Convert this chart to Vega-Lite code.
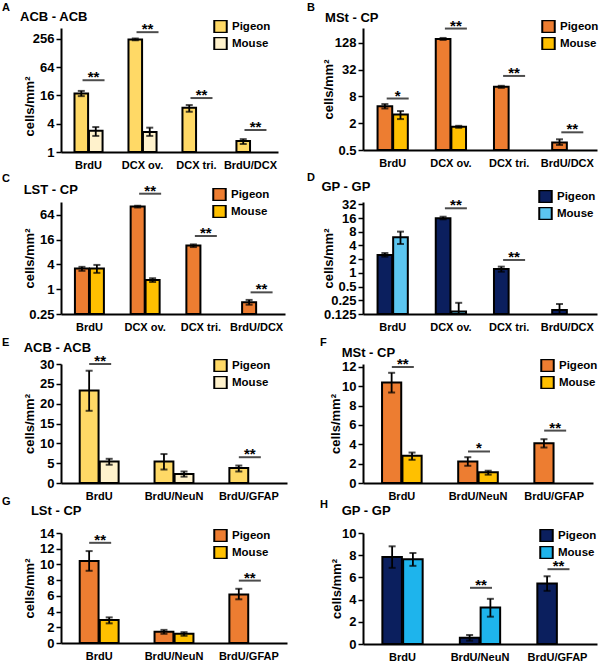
{
  "$schema": "https://vega.github.io/schema/vega-lite/v6.json",
  "autosize": {"type": "none"},
  "padding": {"left": 61, "top": 28, "right": 539, "bottom": 635},
  "background": "white",
  "columns": 2,
  "align": "each",
  "bounds": "flush",
  "spacing": {"row": 50, "column": 76},
  "resolve": {"scale": {"color": "independent", "xOffset": "independent"}},
  "config": {
    "font": "Liberation Sans",
    "view": {"stroke": null},
    "axis": {"domainColor": "black", "domainWidth": 2, "tickColor": "black", "tickWidth": 1.5, "labelColor": "black", "labelFontWeight": "bold", "titleColor": "black", "titleFontWeight": "bold", "grid": false},
    "axisX": {"ticks": false, "labelFontSize": 11, "labelPadding": 7, "labelAngle": 0},
    "axisY": {"labelFontSize": 13, "tickSize": 5, "labelPadding": 2, "titleFontSize": 13, "titleBaseline": "alphabetic", "titleAngle": -90, "labelOverlap": false, "tickCount": 50},
    "legend": {"orient": "none", "direction": "vertical", "title": null, "symbolType": "square", "symbolSize": 156, "symbolStrokeColor": "black", "symbolStrokeWidth": 2, "labelFontSize": 11.5, "labelFontWeight": "bold", "labelColor": "black", "clipHeight": 13, "rowPadding": 4, "labelOffset": 4},
    "title": {"anchor": "start", "frame": "group", "fontSize": 11, "fontWeight": "bold", "color": "black", "subtitleFontSize": 13, "subtitleFontWeight": "bold", "subtitleColor": "black"}
  },
  "datasets": {
    "bars": [
      {"p": "A", "c": "BrdU", "s": "Pigeon", "v": 17.6, "lo": 15.5, "hi": 20},
      {"p": "A", "c": "BrdU", "s": "Mouse", "v": 2.83, "lo": 2.2, "hi": 3.4},
      {"p": "A", "c": "DCX ov.", "s": "Pigeon", "v": 250, "lo": 240, "hi": 262},
      {"p": "A", "c": "DCX ov.", "s": "Mouse", "v": 2.67, "lo": 2.2, "hi": 3.3},
      {"p": "A", "c": "DCX tri.", "s": "Pigeon", "v": 8.8, "lo": 7.2, "hi": 10},
      {"p": "A", "c": "BrdU/DCX", "s": "Pigeon", "v": 1.71, "lo": 1.48, "hi": 1.88},
      {"p": "B", "c": "BrdU", "s": "Pigeon", "v": 4.85, "lo": 4.3, "hi": 5.4},
      {"p": "B", "c": "BrdU", "s": "Mouse", "v": 3.15, "lo": 2.48, "hi": 3.76},
      {"p": "B", "c": "DCX ov.", "s": "Pigeon", "v": 158, "lo": 150, "hi": 166},
      {"p": "B", "c": "DCX ov.", "s": "Mouse", "v": 1.67, "lo": 1.58, "hi": 1.75},
      {"p": "B", "c": "DCX tri.", "s": "Pigeon", "v": 13.2, "lo": 12.5, "hi": 13.9},
      {"p": "B", "c": "BrdU/DCX", "s": "Pigeon", "v": 0.74, "lo": 0.65, "hi": 0.87},
      {"p": "C", "c": "BrdU", "s": "Pigeon", "v": 3.2, "lo": 2.8, "hi": 3.5},
      {"p": "C", "c": "BrdU", "s": "Mouse", "v": 3.2, "lo": 2.5, "hi": 3.9},
      {"p": "C", "c": "DCX ov.", "s": "Pigeon", "v": 102, "lo": 97, "hi": 107},
      {"p": "C", "c": "DCX ov.", "s": "Mouse", "v": 1.67, "lo": 1.5, "hi": 1.85},
      {"p": "C", "c": "DCX tri.", "s": "Pigeon", "v": 11.5, "lo": 10.6, "hi": 12.3},
      {"p": "C", "c": "BrdU/DCX", "s": "Pigeon", "v": 0.48, "lo": 0.42, "hi": 0.55},
      {"p": "D", "c": "BrdU", "s": "Pigeon", "v": 2.48, "lo": 2.27, "hi": 2.73},
      {"p": "D", "c": "BrdU", "s": "Mouse", "v": 6.05, "lo": 4.3, "hi": 8.05},
      {"p": "D", "c": "DCX ov.", "s": "Pigeon", "v": 15.8, "lo": 15, "hi": 17.1},
      {"p": "D", "c": "DCX ov.", "s": "Mouse", "v": 0.141, "lo": 0.125, "hi": 0.22},
      {"p": "D", "c": "DCX tri.", "s": "Pigeon", "v": 1.22, "lo": 1.06, "hi": 1.37},
      {"p": "D", "c": "BrdU/DCX", "s": "Pigeon", "v": 0.153, "lo": 0.125, "hi": 0.207},
      {"p": "E", "c": "BrdU", "s": "Pigeon", "v": 23.3, "lo": 18.2, "hi": 28.3},
      {"p": "E", "c": "BrdU", "s": "Mouse", "v": 5.4, "lo": 4.6, "hi": 6.1},
      {"p": "E", "c": "BrdU/NeuN", "s": "Pigeon", "v": 5.4, "lo": 3.4, "hi": 7.3},
      {"p": "E", "c": "BrdU/NeuN", "s": "Mouse", "v": 2.27, "lo": 1.6, "hi": 2.9},
      {"p": "E", "c": "BrdU/GFAP", "s": "Pigeon", "v": 3.8, "lo": 2.9, "hi": 4.4},
      {"p": "F", "c": "BrdU", "s": "Pigeon", "v": 10.4, "lo": 9.36, "hi": 11.4},
      {"p": "F", "c": "BrdU", "s": "Mouse", "v": 2.81, "lo": 2.4, "hi": 3.15},
      {"p": "F", "c": "BrdU/NeuN", "s": "Pigeon", "v": 2.23, "lo": 1.78, "hi": 2.67},
      {"p": "F", "c": "BrdU/NeuN", "s": "Mouse", "v": 1.1, "lo": 0.86, "hi": 1.27},
      {"p": "F", "c": "BrdU/GFAP", "s": "Pigeon", "v": 4.11, "lo": 3.67, "hi": 4.53},
      {"p": "G", "c": "BrdU", "s": "Pigeon", "v": 10.45, "lo": 9.19, "hi": 11.7},
      {"p": "G", "c": "BrdU", "s": "Mouse", "v": 2.93, "lo": 2.5, "hi": 3.26},
      {"p": "G", "c": "BrdU/NeuN", "s": "Pigeon", "v": 1.42, "lo": 1.17, "hi": 1.67},
      {"p": "G", "c": "BrdU/NeuN", "s": "Mouse", "v": 1.17, "lo": 0.92, "hi": 1.38},
      {"p": "G", "c": "BrdU/GFAP", "s": "Pigeon", "v": 6.18, "lo": 5.56, "hi": 6.9},
      {"p": "H", "c": "BrdU", "s": "Pigeon", "v": 7.84, "lo": 6.86, "hi": 8.8},
      {"p": "H", "c": "BrdU", "s": "Mouse", "v": 7.63, "lo": 7.04, "hi": 8.2},
      {"p": "H", "c": "BrdU/NeuN", "s": "Pigeon", "v": 0.57, "lo": 0.3, "hi": 0.81},
      {"p": "H", "c": "BrdU/NeuN", "s": "Mouse", "v": 3.29, "lo": 2.46, "hi": 4.07},
      {"p": "H", "c": "BrdU/GFAP", "s": "Pigeon", "v": 5.45, "lo": 4.79, "hi": 6.1}
    ],
    "sig": [
      {"p": "A", "c": "BrdU", "sy": 33.8, "t": "**"},
      {"p": "A", "c": "DCX ov.", "sy": 357, "t": "**"},
      {"p": "A", "c": "DCX tri.", "sy": 14.1, "t": "**"},
      {"p": "A", "c": "BrdU/DCX", "sy": 2.94, "t": "**"},
      {"p": "B", "c": "BrdU", "sy": 7.2, "t": "*"},
      {"p": "B", "c": "DCX ov.", "sy": 270, "t": "**"},
      {"p": "B", "c": "DCX tri.", "sy": 23.2, "t": "**"},
      {"p": "B", "c": "BrdU/DCX", "sy": 1.25, "t": "**"},
      {"p": "C", "c": "DCX ov.", "sy": 210, "t": "**"},
      {"p": "C", "c": "DCX tri.", "sy": 19.7, "t": "**"},
      {"p": "C", "c": "BrdU/DCX", "sy": 0.84, "t": "**"},
      {"p": "D", "c": "DCX ov.", "sy": 26.2, "t": "**"},
      {"p": "D", "c": "DCX tri.", "sy": 1.92, "t": "**"},
      {"p": "E", "c": "BrdU", "sy": 30, "t": "**"},
      {"p": "E", "c": "BrdU/GFAP", "sy": 6.5, "t": "**"},
      {"p": "F", "c": "BrdU", "sy": 12, "t": "**"},
      {"p": "F", "c": "BrdU/NeuN", "sy": 3.26, "t": "*"},
      {"p": "F", "c": "BrdU/GFAP", "sy": 5.42, "t": "**"},
      {"p": "G", "c": "BrdU", "sy": 12.75, "t": "**"},
      {"p": "G", "c": "BrdU/GFAP", "sy": 7.94, "t": "**"},
      {"p": "H", "c": "BrdU/NeuN", "sy": 5.06, "t": "**"},
      {"p": "H", "c": "BrdU/GFAP", "sy": 6.74, "t": "**"}
    ]
  },
  "concat": [
    {
      "width": 217, "height": 124,
      "title": {"text": "A", "subtitle": "\u200b\u00a0\u00a0\u00a0\u00a0\u00a0ACB - ACB", "dx": -59, "offset": -4, "subtitlePadding": -2.3},
      "layer": [
        {"data": {"name": "bars"}, "transform": [{"filter": "datum.p == 'A'"}],
         "mark": {"type": "bar", "stroke": "black", "strokeWidth": 2},
         "encoding": {
           "x": {"field": "c", "type": "nominal", "scale": {"domain": ["BrdU", "DCX ov.", "DCX tri.", "BrdU/DCX"], "paddingInner": 0.48, "paddingOuter": 0.25}, "axis": {"title": null}},
           "xOffset": {"field": "s", "type": "nominal", "scale": {"domain": ["Pigeon", "Mouse"], "paddingInner": 0.06}},
           "y": {"field": "v", "type": "quantitative", "stack": null, "scale": {"type": "log", "domain": [1, 438], "nice": false}, "axis": {"title": "cells/mm²", "values": [1, 4, 16, 64, 256], "labelExpr": "'' + datum.value", "titleX": -28, "titleY": 78}},
           "color": {"field": "s", "type": "nominal", "scale": {"domain": ["Pigeon", "Mouse"], "range": ["#FFD966", "#FFF2CC"]}, "legend": {"legendX": 152, "legendY": -8}}
         }},
        {"data": {"name": "bars"}, "transform": [{"filter": "datum.p == 'A'"}],
         "mark": {"type": "rule", "color": "black", "strokeWidth": 1.8},
         "encoding": {"x": {"field": "c", "type": "nominal"}, "xOffset": {"field": "s", "type": "nominal"}, "y": {"field": "lo", "type": "quantitative", "scale": {"type": "log"}}, "y2": {"field": "hi"}}},
        {"data": {"name": "bars"}, "transform": [{"filter": "datum.p == 'A'"}],
         "mark": {"type": "tick", "color": "black", "size": 7, "thickness": 2},
         "encoding": {"x": {"field": "c", "type": "nominal"}, "xOffset": {"field": "s", "type": "nominal"}, "y": {"field": "lo", "type": "quantitative", "scale": {"type": "log"}}}},
        {"data": {"name": "bars"}, "transform": [{"filter": "datum.p == 'A'"}],
         "mark": {"type": "tick", "color": "black", "size": 7, "thickness": 2},
         "encoding": {"x": {"field": "c", "type": "nominal"}, "xOffset": {"field": "s", "type": "nominal"}, "y": {"field": "hi", "type": "quantitative", "scale": {"type": "log"}}}},
        {"data": {"name": "sig"}, "transform": [{"filter": "datum.p == 'A'"}],
         "mark": {"type": "tick", "color": "black", "size": 22, "thickness": 2, "xOffset": 5},
         "encoding": {"x": {"field": "c", "type": "nominal"}, "y": {"field": "sy", "type": "quantitative", "scale": {"type": "log"}}}},
        {"data": {"name": "sig"}, "transform": [{"filter": "datum.p == 'A'"}],
         "mark": {"type": "text", "fontSize": 15, "fontWeight": "bold", "baseline": "alphabetic", "dy": 2, "xOffset": 5, "color": "black"},
         "encoding": {"x": {"field": "c", "type": "nominal"}, "y": {"field": "sy", "type": "quantitative", "scale": {"type": "log"}}, "text": {"field": "t"}}}
      ]
    },
    {
      "width": 234, "height": 122,
      "title": {"text": "B", "subtitle": "\u200b\u00a0\u00a0\u00a0\u00a0\u00a0MSt - CP", "dx": -56, "offset": -6.4, "subtitlePadding": -1.3},
      "layer": [
        {"data": {"name": "bars"}, "transform": [{"filter": "datum.p == 'B'"}],
         "mark": {"type": "bar", "stroke": "black", "strokeWidth": 2},
         "encoding": {
           "x": {"field": "c", "type": "nominal", "scale": {"domain": ["BrdU", "DCX ov.", "DCX tri.", "BrdU/DCX"], "paddingInner": 0.48, "paddingOuter": 0.25}, "axis": {"title": null}},
           "xOffset": {"field": "s", "type": "nominal", "scale": {"domain": ["Pigeon", "Mouse"], "paddingInner": 0.06}},
           "y": {"field": "v", "type": "quantitative", "stack": null, "scale": {"type": "log", "domain": [0.5, 278], "nice": false}, "axis": {"title": "cells/mm²", "values": [0.5, 2, 8, 32, 128], "labelExpr": "'' + datum.value", "titleX": -31}},
           "color": {"field": "s", "type": "nominal", "scale": {"domain": ["Pigeon", "Mouse"], "range": ["#ED7D31", "#FFC000"]}, "legend": {"legendX": 178, "legendY": -8}}
         }},
        {"data": {"name": "bars"}, "transform": [{"filter": "datum.p == 'B'"}],
         "mark": {"type": "rule", "color": "black", "strokeWidth": 1.8},
         "encoding": {"x": {"field": "c", "type": "nominal"}, "xOffset": {"field": "s", "type": "nominal"}, "y": {"field": "lo", "type": "quantitative", "scale": {"type": "log"}}, "y2": {"field": "hi"}}},
        {"data": {"name": "bars"}, "transform": [{"filter": "datum.p == 'B'"}],
         "mark": {"type": "tick", "color": "black", "size": 7, "thickness": 2},
         "encoding": {"x": {"field": "c", "type": "nominal"}, "xOffset": {"field": "s", "type": "nominal"}, "y": {"field": "lo", "type": "quantitative", "scale": {"type": "log"}}}},
        {"data": {"name": "bars"}, "transform": [{"filter": "datum.p == 'B'"}],
         "mark": {"type": "tick", "color": "black", "size": 7, "thickness": 2},
         "encoding": {"x": {"field": "c", "type": "nominal"}, "xOffset": {"field": "s", "type": "nominal"}, "y": {"field": "hi", "type": "quantitative", "scale": {"type": "log"}}}},
        {"data": {"name": "sig"}, "transform": [{"filter": "datum.p == 'B'"}],
         "mark": {"type": "tick", "color": "black", "size": 22, "thickness": 2, "xOffset": 5},
         "encoding": {"x": {"field": "c", "type": "nominal"}, "y": {"field": "sy", "type": "quantitative", "scale": {"type": "log"}}}},
        {"data": {"name": "sig"}, "transform": [{"filter": "datum.p == 'B'"}],
         "mark": {"type": "text", "fontSize": 15, "fontWeight": "bold", "baseline": "alphabetic", "dy": 2, "xOffset": 5, "color": "black"},
         "encoding": {"x": {"field": "c", "type": "nominal"}, "y": {"field": "sy", "type": "quantitative", "scale": {"type": "log"}}, "text": {"field": "t"}}}
      ]
    },
    {
      "width": 224, "height": 112,
      "title": {"text": "C", "subtitle": "\u200b\u00a0\u00a0\u00a0\u00a0\u00a0\u00a0LST - CP", "dx": -59, "offset": -13.2, "subtitlePadding": 0.2},
      "layer": [
        {"data": {"name": "bars"}, "transform": [{"filter": "datum.p == 'C'"}],
         "mark": {"type": "bar", "stroke": "black", "strokeWidth": 2},
         "encoding": {
           "x": {"field": "c", "type": "nominal", "scale": {"domain": ["BrdU", "DCX ov.", "DCX tri.", "BrdU/DCX"], "paddingInner": 0.48, "paddingOuter": 0.25}, "axis": {"title": null}},
           "xOffset": {"field": "s", "type": "nominal", "scale": {"domain": ["Pigeon", "Mouse"], "paddingInner": 0.06}},
           "y": {"field": "v", "type": "quantitative", "stack": null, "scale": {"type": "log", "domain": [0.25, 132], "nice": false}, "axis": {"title": "cells/mm²", "values": [0.25, 1, 4, 16, 64], "labelExpr": "'' + datum.value", "titleX": -28}},
           "color": {"field": "s", "type": "nominal", "scale": {"domain": ["Pigeon", "Mouse"], "range": ["#ED7D31", "#FFC000"]}, "legend": {"legendX": 151, "legendY": -14}}
         }},
        {"data": {"name": "bars"}, "transform": [{"filter": "datum.p == 'C'"}],
         "mark": {"type": "rule", "color": "black", "strokeWidth": 1.8},
         "encoding": {"x": {"field": "c", "type": "nominal"}, "xOffset": {"field": "s", "type": "nominal"}, "y": {"field": "lo", "type": "quantitative", "scale": {"type": "log"}}, "y2": {"field": "hi"}}},
        {"data": {"name": "bars"}, "transform": [{"filter": "datum.p == 'C'"}],
         "mark": {"type": "tick", "color": "black", "size": 7, "thickness": 2},
         "encoding": {"x": {"field": "c", "type": "nominal"}, "xOffset": {"field": "s", "type": "nominal"}, "y": {"field": "lo", "type": "quantitative", "scale": {"type": "log"}}}},
        {"data": {"name": "bars"}, "transform": [{"filter": "datum.p == 'C'"}],
         "mark": {"type": "tick", "color": "black", "size": 7, "thickness": 2},
         "encoding": {"x": {"field": "c", "type": "nominal"}, "xOffset": {"field": "s", "type": "nominal"}, "y": {"field": "hi", "type": "quantitative", "scale": {"type": "log"}}}},
        {"data": {"name": "sig"}, "transform": [{"filter": "datum.p == 'C'"}],
         "mark": {"type": "tick", "color": "black", "size": 22, "thickness": 2, "xOffset": 5},
         "encoding": {"x": {"field": "c", "type": "nominal"}, "y": {"field": "sy", "type": "quantitative", "scale": {"type": "log"}}}},
        {"data": {"name": "sig"}, "transform": [{"filter": "datum.p == 'C'"}],
         "mark": {"type": "text", "fontSize": 15, "fontWeight": "bold", "baseline": "alphabetic", "dy": 2, "xOffset": 5, "color": "black"},
         "encoding": {"x": {"field": "c", "type": "nominal"}, "y": {"field": "sy", "type": "quantitative", "scale": {"type": "log"}}, "text": {"field": "t"}}}
      ]
    },
    {
      "width": 234, "height": 112,
      "title": {"text": "D", "subtitle": "\u200b\u00a0\u00a0\u00a0\u00a0GP - GP", "dx": -56, "offset": -4, "subtitlePadding": -2.3},
      "layer": [
        {"data": {"name": "bars"}, "transform": [{"filter": "datum.p == 'D'"}],
         "mark": {"type": "bar", "stroke": "black", "strokeWidth": 2},
         "encoding": {
           "x": {"field": "c", "type": "nominal", "scale": {"domain": ["BrdU", "DCX ov.", "DCX tri.", "BrdU/DCX"], "paddingInner": 0.48, "paddingOuter": 0.25}, "axis": {"title": null}},
           "xOffset": {"field": "s", "type": "nominal", "scale": {"domain": ["Pigeon", "Mouse"], "paddingInner": 0.06}},
           "y": {"field": "v", "type": "quantitative", "stack": null, "scale": {"type": "log", "domain": [0.125, 36], "nice": false}, "axis": {"title": "cells/mm²", "values": [0.125, 0.25, 0.5, 1, 2, 4, 8, 16, 32], "labelExpr": "'' + datum.value", "titleX": -31}},
           "color": {"field": "s", "type": "nominal", "scale": {"domain": ["Pigeon", "Mouse"], "range": ["#0B1F5E", "#5CC6F0"]}, "legend": {"legendX": 175, "legendY": -12}}
         }},
        {"data": {"name": "bars"}, "transform": [{"filter": "datum.p == 'D'"}],
         "mark": {"type": "rule", "color": "black", "strokeWidth": 1.8},
         "encoding": {"x": {"field": "c", "type": "nominal"}, "xOffset": {"field": "s", "type": "nominal"}, "y": {"field": "lo", "type": "quantitative", "scale": {"type": "log"}}, "y2": {"field": "hi"}}},
        {"data": {"name": "bars"}, "transform": [{"filter": "datum.p == 'D'"}],
         "mark": {"type": "tick", "color": "black", "size": 7, "thickness": 2},
         "encoding": {"x": {"field": "c", "type": "nominal"}, "xOffset": {"field": "s", "type": "nominal"}, "y": {"field": "lo", "type": "quantitative", "scale": {"type": "log"}}}},
        {"data": {"name": "bars"}, "transform": [{"filter": "datum.p == 'D'"}],
         "mark": {"type": "tick", "color": "black", "size": 7, "thickness": 2},
         "encoding": {"x": {"field": "c", "type": "nominal"}, "xOffset": {"field": "s", "type": "nominal"}, "y": {"field": "hi", "type": "quantitative", "scale": {"type": "log"}}}},
        {"data": {"name": "sig"}, "transform": [{"filter": "datum.p == 'D'"}],
         "mark": {"type": "tick", "color": "black", "size": 22, "thickness": 2, "xOffset": 5},
         "encoding": {"x": {"field": "c", "type": "nominal"}, "y": {"field": "sy", "type": "quantitative", "scale": {"type": "log"}}}},
        {"data": {"name": "sig"}, "transform": [{"filter": "datum.p == 'D'"}],
         "mark": {"type": "text", "fontSize": 15, "fontWeight": "bold", "baseline": "alphabetic", "dy": 2, "xOffset": 5, "color": "black"},
         "encoding": {"x": {"field": "c", "type": "nominal"}, "y": {"field": "sy", "type": "quantitative", "scale": {"type": "log"}}, "text": {"field": "t"}}}
      ]
    },
    {
      "width": 226, "height": 119,
      "title": {"text": "E", "subtitle": "\u200b\u00a0\u00a0\u00a0\u00a0\u00a0\u00a0ACB - ACB", "dx": -59, "offset": -0.5, "subtitlePadding": -6.8},
      "layer": [
        {"data": {"name": "bars"}, "transform": [{"filter": "datum.p == 'E'"}],
         "mark": {"type": "bar", "stroke": "black", "strokeWidth": 2},
         "encoding": {
           "x": {"field": "c", "type": "nominal", "scale": {"domain": ["BrdU", "BrdU/NeuN", "BrdU/GFAP"], "paddingInner": 0.48, "paddingOuter": 0.25}, "axis": {"title": null}},
           "xOffset": {"field": "s", "type": "nominal", "scale": {"domain": ["Pigeon", "Mouse"], "paddingInner": 0.06}},
           "y": {"field": "v", "type": "quantitative", "stack": null, "scale": {"domain": [0, 30], "nice": false}, "axis": {"title": "cells/mm²", "values": [0, 5, 10, 15, 20, 25, 30], "labelExpr": "'' + datum.value", "titleX": -28}},
           "color": {"field": "s", "type": "nominal", "scale": {"domain": ["Pigeon", "Mouse"], "range": ["#FFD966", "#FFF2CC"]}, "legend": {"legendX": 152, "legendY": -5}}
         }},
        {"data": {"name": "bars"}, "transform": [{"filter": "datum.p == 'E'"}],
         "mark": {"type": "rule", "color": "black", "strokeWidth": 1.8},
         "encoding": {"x": {"field": "c", "type": "nominal"}, "xOffset": {"field": "s", "type": "nominal"}, "y": {"field": "lo", "type": "quantitative"}, "y2": {"field": "hi"}}},
        {"data": {"name": "bars"}, "transform": [{"filter": "datum.p == 'E'"}],
         "mark": {"type": "tick", "color": "black", "size": 7, "thickness": 2},
         "encoding": {"x": {"field": "c", "type": "nominal"}, "xOffset": {"field": "s", "type": "nominal"}, "y": {"field": "lo", "type": "quantitative"}}},
        {"data": {"name": "bars"}, "transform": [{"filter": "datum.p == 'E'"}],
         "mark": {"type": "tick", "color": "black", "size": 7, "thickness": 2},
         "encoding": {"x": {"field": "c", "type": "nominal"}, "xOffset": {"field": "s", "type": "nominal"}, "y": {"field": "hi", "type": "quantitative"}}},
        {"data": {"name": "sig"}, "transform": [{"filter": "datum.p == 'E'"}],
         "mark": {"type": "tick", "color": "black", "size": 22, "thickness": 2, "xOffset": 1},
         "encoding": {"x": {"field": "c", "type": "nominal"}, "y": {"field": "sy", "type": "quantitative"}}},
        {"data": {"name": "sig"}, "transform": [{"filter": "datum.p == 'E'"}],
         "mark": {"type": "text", "fontSize": 15, "fontWeight": "bold", "baseline": "alphabetic", "dy": 2, "xOffset": 1, "color": "black"},
         "encoding": {"x": {"field": "c", "type": "nominal"}, "y": {"field": "sy", "type": "quantitative"}, "text": {"field": "t"}}}
      ]
    },
    {
      "width": 230, "height": 119,
      "title": {"text": "F", "subtitle": "\u200b\u00a0\u00a0\u00a0\u00a0\u00a0\u00a0MSt - CP", "dx": -43, "offset": -3, "subtitlePadding": -1.3},
      "layer": [
        {"data": {"name": "bars"}, "transform": [{"filter": "datum.p == 'F'"}],
         "mark": {"type": "bar", "stroke": "black", "strokeWidth": 2},
         "encoding": {
           "x": {"field": "c", "type": "nominal", "scale": {"domain": ["BrdU", "BrdU/NeuN", "BrdU/GFAP"], "paddingInner": 0.48, "paddingOuter": 0.25}, "axis": {"title": null}},
           "xOffset": {"field": "s", "type": "nominal", "scale": {"domain": ["Pigeon", "Mouse"], "paddingInner": 0.06}},
           "y": {"field": "v", "type": "quantitative", "stack": null, "scale": {"domain": [0, 12.31], "nice": false}, "axis": {"title": "cells/mm²", "values": [0, 2, 4, 6, 8, 10, 12], "labelExpr": "'' + datum.value", "titleX": -24}},
           "color": {"field": "s", "type": "nominal", "scale": {"domain": ["Pigeon", "Mouse"], "range": ["#ED7D31", "#FFC000"]}, "legend": {"legendX": 177, "legendY": -5}}
         }},
        {"data": {"name": "bars"}, "transform": [{"filter": "datum.p == 'F'"}],
         "mark": {"type": "rule", "color": "black", "strokeWidth": 1.8},
         "encoding": {"x": {"field": "c", "type": "nominal"}, "xOffset": {"field": "s", "type": "nominal"}, "y": {"field": "lo", "type": "quantitative"}, "y2": {"field": "hi"}}},
        {"data": {"name": "bars"}, "transform": [{"filter": "datum.p == 'F'"}],
         "mark": {"type": "tick", "color": "black", "size": 7, "thickness": 2},
         "encoding": {"x": {"field": "c", "type": "nominal"}, "xOffset": {"field": "s", "type": "nominal"}, "y": {"field": "lo", "type": "quantitative"}}},
        {"data": {"name": "bars"}, "transform": [{"filter": "datum.p == 'F'"}],
         "mark": {"type": "tick", "color": "black", "size": 7, "thickness": 2},
         "encoding": {"x": {"field": "c", "type": "nominal"}, "xOffset": {"field": "s", "type": "nominal"}, "y": {"field": "hi", "type": "quantitative"}}},
        {"data": {"name": "sig"}, "transform": [{"filter": "datum.p == 'F'"}],
         "mark": {"type": "tick", "color": "black", "size": 22, "thickness": 2, "xOffset": 1},
         "encoding": {"x": {"field": "c", "type": "nominal"}, "y": {"field": "sy", "type": "quantitative"}}},
        {"data": {"name": "sig"}, "transform": [{"filter": "datum.p == 'F'"}],
         "mark": {"type": "text", "fontSize": 15, "fontWeight": "bold", "baseline": "alphabetic", "dy": 2, "xOffset": 1, "color": "black"},
         "encoding": {"x": {"field": "c", "type": "nominal"}, "y": {"field": "sy", "type": "quantitative"}, "text": {"field": "t"}}}
      ]
    },
    {
      "width": 226, "height": 110,
      "title": {"text": "G", "subtitle": "\u200b\u00a0\u00a0\u00a0\u00a0\u00a0\u00a0\u00a0\u00a0LSt - CP", "dx": -59, "offset": 9, "subtitlePadding": -2.3},
      "layer": [
        {"data": {"name": "bars"}, "transform": [{"filter": "datum.p == 'G'"}],
         "mark": {"type": "bar", "stroke": "black", "strokeWidth": 2},
         "encoding": {
           "x": {"field": "c", "type": "nominal", "scale": {"domain": ["BrdU", "BrdU/NeuN", "BrdU/GFAP"], "paddingInner": 0.48, "paddingOuter": 0.25}, "axis": {"title": null}},
           "xOffset": {"field": "s", "type": "nominal", "scale": {"domain": ["Pigeon", "Mouse"], "paddingInner": 0.06}},
           "y": {"field": "v", "type": "quantitative", "stack": null, "scale": {"domain": [0, 14], "nice": false}, "axis": {"title": "cells/mm²", "values": [0, 2, 4, 6, 8, 10, 12, 14], "labelExpr": "'' + datum.value", "titleX": -28}},
           "color": {"field": "s", "type": "nominal", "scale": {"domain": ["Pigeon", "Mouse"], "range": ["#ED7D31", "#FFC000"]}, "legend": {"legendX": 152, "legendY": -4}}
         }},
        {"data": {"name": "bars"}, "transform": [{"filter": "datum.p == 'G'"}],
         "mark": {"type": "rule", "color": "black", "strokeWidth": 1.8},
         "encoding": {"x": {"field": "c", "type": "nominal"}, "xOffset": {"field": "s", "type": "nominal"}, "y": {"field": "lo", "type": "quantitative"}, "y2": {"field": "hi"}}},
        {"data": {"name": "bars"}, "transform": [{"filter": "datum.p == 'G'"}],
         "mark": {"type": "tick", "color": "black", "size": 7, "thickness": 2},
         "encoding": {"x": {"field": "c", "type": "nominal"}, "xOffset": {"field": "s", "type": "nominal"}, "y": {"field": "lo", "type": "quantitative"}}},
        {"data": {"name": "bars"}, "transform": [{"filter": "datum.p == 'G'"}],
         "mark": {"type": "tick", "color": "black", "size": 7, "thickness": 2},
         "encoding": {"x": {"field": "c", "type": "nominal"}, "xOffset": {"field": "s", "type": "nominal"}, "y": {"field": "hi", "type": "quantitative"}}},
        {"data": {"name": "sig"}, "transform": [{"filter": "datum.p == 'G'"}],
         "mark": {"type": "tick", "color": "black", "size": 22, "thickness": 2, "xOffset": 1},
         "encoding": {"x": {"field": "c", "type": "nominal"}, "y": {"field": "sy", "type": "quantitative"}}},
        {"data": {"name": "sig"}, "transform": [{"filter": "datum.p == 'G'"}],
         "mark": {"type": "text", "fontSize": 15, "fontWeight": "bold", "baseline": "alphabetic", "dy": 2, "xOffset": 1, "color": "black"},
         "encoding": {"x": {"field": "c", "type": "nominal"}, "y": {"field": "sy", "type": "quantitative"}, "text": {"field": "t"}}}
      ]
    },
    {
      "width": 234, "height": 111,
      "title": {"text": "H", "subtitle": "\u200b\u00a0\u00a0\u00a0\u00a0\u00a0\u00a0GP - GP", "dx": -43, "offset": 9, "subtitlePadding": -4.8},
      "layer": [
        {"data": {"name": "bars"}, "transform": [{"filter": "datum.p == 'H'"}],
         "mark": {"type": "bar", "stroke": "black", "strokeWidth": 2},
         "encoding": {
           "x": {"field": "c", "type": "nominal", "scale": {"domain": ["BrdU", "BrdU/NeuN", "BrdU/GFAP"], "paddingInner": 0.48, "paddingOuter": 0.25}, "axis": {"title": null}},
           "xOffset": {"field": "s", "type": "nominal", "scale": {"domain": ["Pigeon", "Mouse"], "paddingInner": 0.06}},
           "y": {"field": "v", "type": "quantitative", "stack": null, "scale": {"domain": [0, 10], "nice": false}, "axis": {"title": "cells/mm²", "values": [0, 2, 4, 6, 8, 10], "labelExpr": "'' + datum.value", "titleX": -23}},
           "color": {"field": "s", "type": "nominal", "scale": {"domain": ["Pigeon", "Mouse"], "range": ["#0B1F5E", "#1EB4EC"]}, "legend": {"legendX": 176, "legendY": -4}}
         }},
        {"data": {"name": "bars"}, "transform": [{"filter": "datum.p == 'H'"}],
         "mark": {"type": "rule", "color": "black", "strokeWidth": 1.8},
         "encoding": {"x": {"field": "c", "type": "nominal"}, "xOffset": {"field": "s", "type": "nominal"}, "y": {"field": "lo", "type": "quantitative"}, "y2": {"field": "hi"}}},
        {"data": {"name": "bars"}, "transform": [{"filter": "datum.p == 'H'"}],
         "mark": {"type": "tick", "color": "black", "size": 7, "thickness": 2},
         "encoding": {"x": {"field": "c", "type": "nominal"}, "xOffset": {"field": "s", "type": "nominal"}, "y": {"field": "lo", "type": "quantitative"}}},
        {"data": {"name": "bars"}, "transform": [{"filter": "datum.p == 'H'"}],
         "mark": {"type": "tick", "color": "black", "size": 7, "thickness": 2},
         "encoding": {"x": {"field": "c", "type": "nominal"}, "xOffset": {"field": "s", "type": "nominal"}, "y": {"field": "hi", "type": "quantitative"}}},
        {"data": {"name": "sig"}, "transform": [{"filter": "datum.p == 'H'"}],
         "mark": {"type": "tick", "color": "black", "size": 22, "thickness": 2, "xOffset": 1},
         "encoding": {"x": {"field": "c", "type": "nominal"}, "y": {"field": "sy", "type": "quantitative"}}},
        {"data": {"name": "sig"}, "transform": [{"filter": "datum.p == 'H'"}],
         "mark": {"type": "text", "fontSize": 15, "fontWeight": "bold", "baseline": "alphabetic", "dy": 2, "xOffset": 1, "color": "black"},
         "encoding": {"x": {"field": "c", "type": "nominal"}, "y": {"field": "sy", "type": "quantitative"}, "text": {"field": "t"}}}
      ]
    }
  ]
}
